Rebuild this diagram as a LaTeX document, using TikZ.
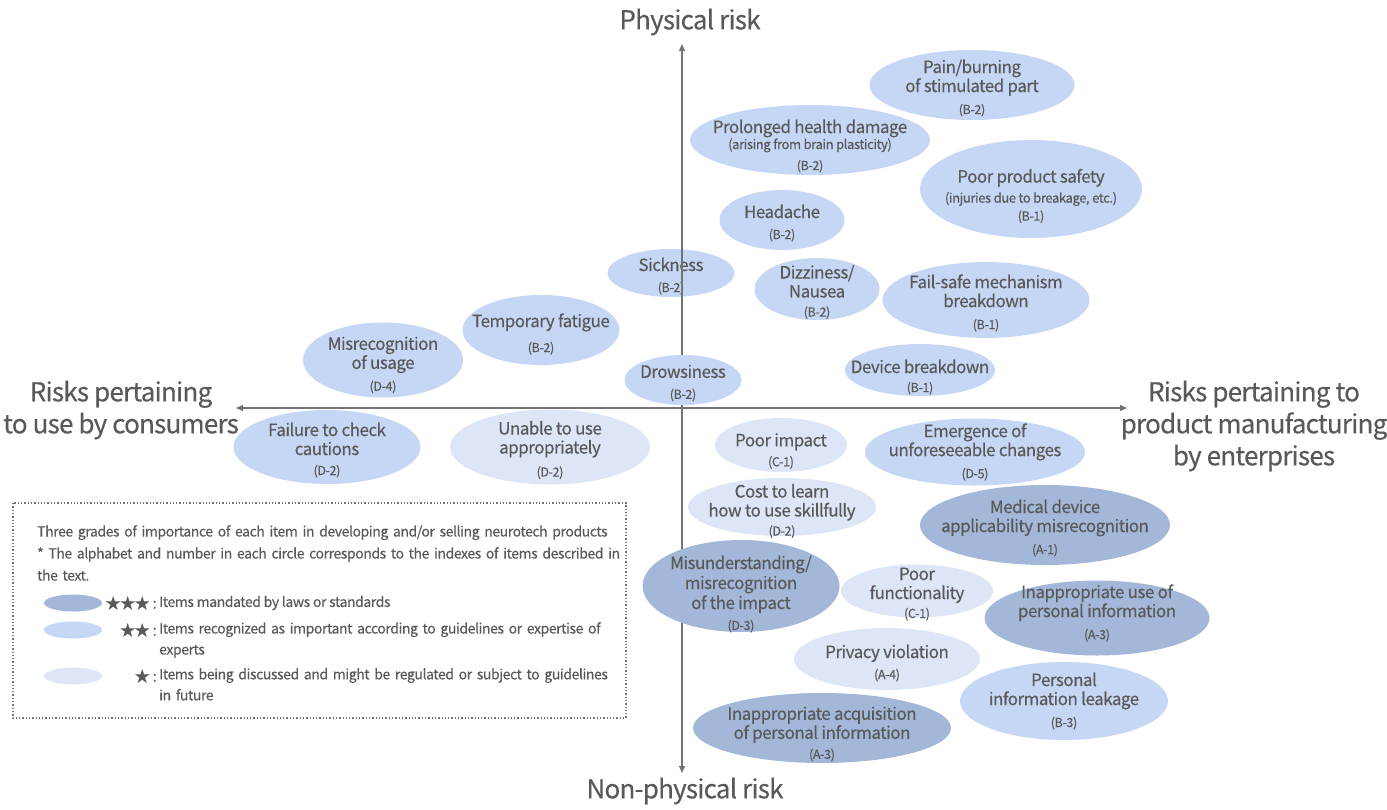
\documentclass[tikz,border=0pt]{standalone}
\usepackage{fontspec}
\setmainfont{Noto Sans CJK KR}[LetterSpace=-3, FakeBold=0.3]
\usetikzlibrary{shapes.geometric,arrows.meta,positioning}
\definecolor{txtgray}{HTML}{595959}
\definecolor{axisgray}{HTML}{737373}
\definecolor{gradethree}{HTML}{A3B8D9}
\definecolor{gradetwo}{HTML}{C6D7F5}
\definecolor{gradeone}{HTML}{DDE6F7}
\newcommand{\riskcode}[2][2pt]{\\[#1]{\fontsize{12.5}{13}\selectfont #2}}
\newcommand{\risksub}[1]{{\fontsize{13}{14}\selectfont #1}}

\tikzset{
  risk/.style 2 args={ellipse, inner sep=0pt, minimum width=#1pt, minimum height=#2pt},
  starthree/.style={fill=gradethree},
  startwo/.style={fill=gradetwo},
  starone/.style={fill=gradeone},
  txt/.style={text=txtgray, align=center, font=\fontsize{17}{19}\selectfont, inner sep=0pt, yshift=-3pt},
  axislabel/.style={text=txtgray, align=center, font=\fontsize{26}{32}\selectfont},
  legendtxt/.style={text=txtgray, inner sep=0pt, font=\fontsize{14}{21}\selectfont},
  axis/.style={draw=axisgray, line width=1.3pt, {Triangle[length=7pt,width=6pt]}-{Triangle[length=7pt,width=6pt]}},
}

\begin{document}
\begin{tikzpicture}[x=1pt, y=-1pt]
  \useasboundingbox (0,0) rectangle (1387,809);

  % lies under the vertical axis
  \node[startwo, risk={127}{48}, label={[txt]center:{Sickness\riskcode{(B-2)}}}] (sickness) at (671,273) {};

  % axes
  \coordinate (top) at (682,44);
  \coordinate (bottom) at (682,773);
  \coordinate (left) at (236,408);
  \coordinate (right) at (1127,408);
  \draw[axis] (top) -- (bottom);
  \draw[axis] (left) -- (right);

  \node[axislabel] (physical) at (690,22) {Physical risk};
  \node[axislabel] (nonphysical) at (685,791) {Non-physical risk};
  \node[axislabel] (consumers) at (121,410) {Risks pertaining\\to use by consumers};
  \node[axislabel] (enterprises) at (1254,426) {Risks pertaining to\\product manufacturing\\by enterprises};

  % physical risk items
  \node[startwo, risk={205}{70}, label={[txt]center:{Pain/burning\\of stimulated part\riskcode[3pt]{(B-2)}}}] (pain) at (972,85) {};
  \node[startwo, risk={240}{70}, label={[txt, yshift=-3pt]center:{Prolonged health damage\\[-3pt]\risksub{(arising from brain plasticity)}\riskcode[2pt]{(B-2)}}}] (prolonged) at (810,140) {};
  \node[startwo, risk={222}{98}, label={[txt, yshift=-4pt]center:{Poor product safety\\[1pt]\risksub{(injuries due to breakage, etc.)}\riskcode[-1pt]{(B-1)}}}] (safety) at (1031,189) {};
  \node[startwo, risk={125}{60}, label={[txt]center:{Headache\riskcode{(B-2)}}}] (headache) at (782,220) {};
  \node[startwo, risk={125}{62}, label={[txt]center:{Dizziness/\\Nausea\riskcode[0pt]{(B-2)}}}] (dizziness) at (817,289) {};
  \node[startwo, risk={207}{76}, label={[txt]center:{Fail-safe mechanism\\breakdown\riskcode[3pt]{(B-1)}}}] (failsafe) at (986,300) {};
  \node[startwo, risk={157}{70}, label={[txt, yshift=-1pt]center:{Temporary fatigue\riskcode[6pt]{(B-2)}}}] (fatigue) at (541,330) {};
  \node[startwo, risk={160}{75}, label={[txt, yshift=-2pt]center:{Misrecognition\\of usage\riskcode[3pt]{(D-4)}}}] (misusage) at (383,360) {};
  \node[startwo, risk={117}{50}, label={[txt]center:{Drowsiness\riskcode{(B-2)}}}] (drowsiness) at (683,380) {};
  \node[startwo, risk={150}{52}, label={[txt, yshift=-4pt]center:{Device breakdown\riskcode[0pt]{(B-1)}}}] (devbreak) at (920,370) {};

  % non-physical risk items
  \node[startwo, risk={187}{74}, label={[txt]center:{Failure to check\\cautions\riskcode[1pt]{(D-2)}}}] (cautions) at (327,447) {};
  \node[starone, risk={200}{75}, label={[txt]center:{Unable to use\\appropriately\riskcode[4pt]{(D-2)}}}] (unable) at (550,447) {};
  \node[starone, risk={132}{54}, label={[txt, yshift=-3pt]center:{Poor impact\riskcode[1pt]{(C-1)}}}] (poorimpact) at (781,445) {};
  \node[startwo, risk={220}{67}, label={[txt, yshift=3pt]center:{Emergence of\\unforeseeable changes\riskcode[3pt]{(D-5)}}}] (emergence) at (975,452) {};
  \node[starone, risk={188}{58}, label={[txt, yshift=-1pt]center:{Cost to learn\\how to use skillfully\riskcode[0pt]{(D-2)}}}] (costlearn) at (782,507) {};
  \node[starthree, risk={250}{80}, label={[txt]center:{Medical device\\applicability misrecognition\riskcode[3pt]{(A-1)}}}] (medical) at (1045,525) {};
  \node[starthree, risk={197}{92}, label={[txt, yshift=-5pt, font=\fontsize{17}{20}\selectfont]center:{Misunderstanding/\\misrecognition\\of the impact\riskcode[1pt]{(D-3)}}}] (misunder) at (741,586) {};
  \node[starone, risk={152}{53}, label={[txt]center:{Poor\\functionality\riskcode[0pt]{(C-1)}}}] (poorfunc) at (917,591) {};
  \node[starthree, risk={225}{75}, label={[txt, yshift=8pt]center:{Inappropriate use of\\personal information\riskcode[3pt]{(A-3)}}}] (inapuse) at (1097,618) {};
  \node[starone, risk={186}{62}, label={[txt, yshift=-1pt]center:{Privacy violation\riskcode[2pt]{(A-4)}}}] (privacy) at (887,659) {};
  \node[startwo, risk={208}{78}, label={[txt, yshift=3pt]center:{Personal\\information leakage\riskcode[3pt]{(B-3)}}}] (leakage) at (1064,701) {};
  \node[starthree, risk={258}{70}, label={[txt, yshift=-3pt]center:{Inappropriate acquisition\\of personal information\riskcode[1pt]{(A-3)}}}] (inapacq) at (822,728) {};

  % legend
  \draw[axisgray, line width=1.3pt, dotted] (13,503) rectangle (626,718);
  \node[legendtxt, anchor=north west, align=left, text width=585pt,
        font=\fontsize{14}{22}\selectfont] (legendhead) at (37,525)
    {Three grades of importance of each item in developing and/or selling neurotech products\\
     {*} The alphabet and number in each circle corresponds to the indexes of items described in the text.};
  \node[starthree, risk={58}{17}] (keythree) at (73,603) {};
  \node[startwo, risk={58}{17}] (keytwo) at (73,630) {};
  \node[starone, risk={58}{17}] (keyone) at (73,676) {};
  \node[legendtxt, anchor=east, font=\fontsize{15}{16}\selectfont] (starsthree) at (157,603) {★★★ :};
  \node[legendtxt, anchor=east, font=\fontsize{15}{16}\selectfont] (starstwo) at (157,630) {★★ :};
  \node[legendtxt, anchor=east, font=\fontsize{15}{16}\selectfont] (starsone) at (157,676) {★ :};
  \node[legendtxt, anchor=west] (keytextthree) at (159,603) {Items mandated by laws or standards};
  \node[legendtxt, anchor=north west, align=left, text width=455pt] (keytexttwo) at (159,622)
    {Items recognized as important according to guidelines or expertise of experts};
  \node[legendtxt, anchor=north west, align=left, text width=455pt] (keytextone) at (159,668)
    {Items being discussed and might be regulated or subject to guidelines in future};
\end{tikzpicture}
\end{document}
